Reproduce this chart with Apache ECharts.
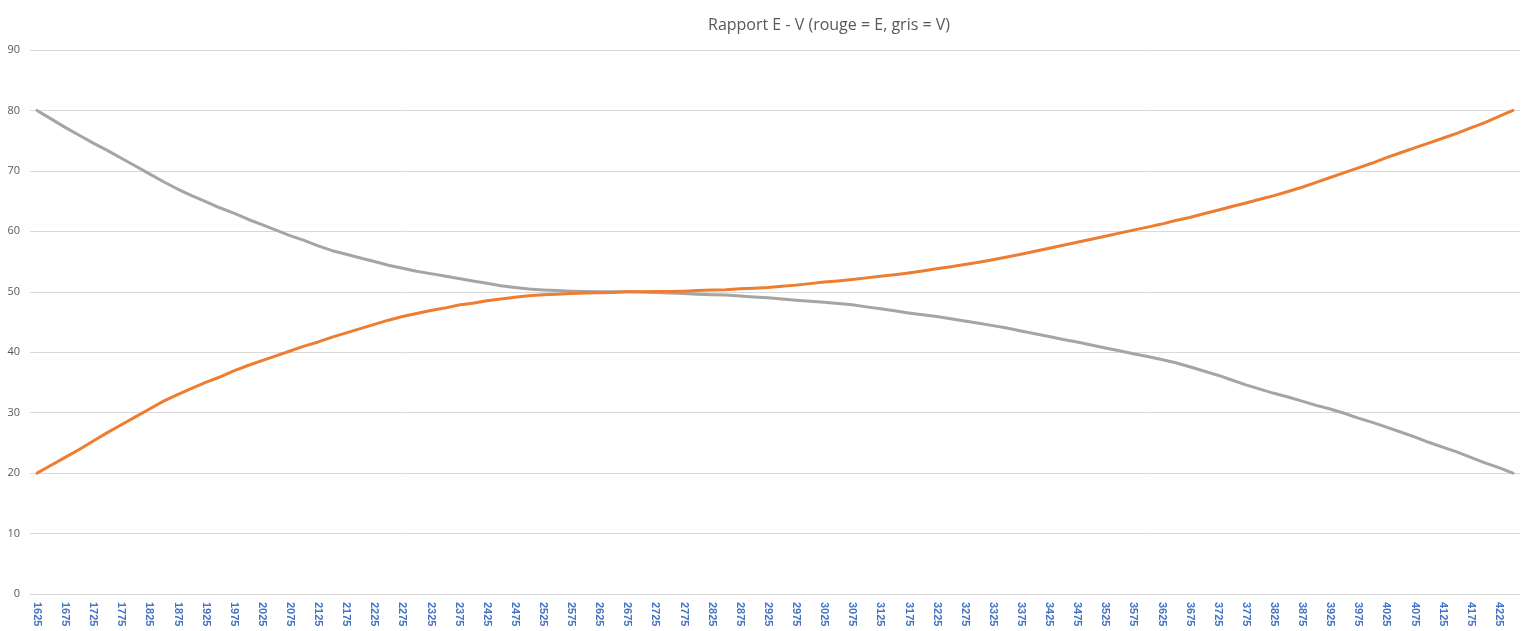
<!DOCTYPE html>
<html>
<head>
<meta charset="utf-8">
<script src="https://cdn.jsdelivr.net/npm/echarts@6/dist/echarts.min.js"></script>
<style>
html,body{margin:0;padding:0;background:#fff;}
#c{width:1535px;height:631px;}
</style>
</head>
<body>
<div id="c"></div>
<script>
// Categories: 1625 .. 4250, step 25
const categories = [
  1625,1650,1675,1700,1725,1750,1775,1800,1825,1850,
  1875,1900,1925,1950,1975,2000,2025,2050,2075,2100,
  2125,2150,2175,2200,2225,2250,2275,2300,2325,2350,
  2375,2400,2425,2450,2475,2500,2525,2550,2575,2600,
  2625,2650,2675,2700,2725,2750,2775,2800,2825,2850,
  2875,2900,2925,2950,2975,3000,3025,3050,3075,3100,
  3125,3150,3175,3200,3225,3250,3275,3300,3325,3350,
  3375,3400,3425,3450,3475,3500,3525,3550,3575,3600,
  3625,3650,3675,3700,3725,3750,3775,3800,3825,3850,
  3875,3900,3925,3950,3975,4000,4025,4050,4075,4100,
  4125,4150,4175,4200,4225,4250
];

// E (orange)
const seriesE = [
  20.0,21.3,22.6,23.9,25.3,26.7,28.0,29.3,30.6,31.9,
  33.0,34.0,35.0,35.9,36.9,37.8,38.6,39.4,40.2,41.0,
  41.7,42.5,43.2,43.9,44.6,45.3,45.9,46.4,46.9,47.3,
  47.8,48.1,48.5,48.8,49.1,49.35,49.5,49.6,49.7,49.8,
  49.85,49.9,50.0,50.0,50.05,50.05,50.1,50.2,50.3,50.35,
  50.5,50.6,50.7,50.9,51.1,51.35,51.6,51.8,52.05,52.3,
  52.55,52.8,53.1,53.45,53.8,54.15,54.5,54.9,55.3,55.75,
  56.2,56.7,57.2,57.7,58.2,58.7,59.2,59.7,60.2,60.7,
  61.2,61.8,62.3,62.9,63.5,64.1,64.7,65.3,65.9,66.6,
  67.3,68.1,68.9,69.7,70.5,71.3,72.2,73.0,73.8,74.6,
  75.4,76.2,77.1,78.0,79.0,80.0
];

// V (grey)
const seriesV = [
  80.0,78.6,77.2,75.9,74.6,73.4,72.1,70.8,69.5,68.2,
  67.0,65.9,64.9,63.9,63.0,62.0,61.1,60.2,59.3,58.5,
  57.6,56.8,56.2,55.6,55.0,54.4,53.9,53.4,53.0,52.6,
  52.2,51.8,51.4,51.0,50.7,50.45,50.3,50.2,50.1,50.05,
  50.0,50.0,50.0,49.95,49.9,49.8,49.7,49.6,49.5,49.45,
  49.3,49.15,49.0,48.8,48.6,48.45,48.25,48.05,47.85,47.5,
  47.2,46.85,46.5,46.2,45.9,45.55,45.15,44.8,44.4,44.0,
  43.5,43.05,42.6,42.1,41.7,41.2,40.7,40.25,39.75,39.3,
  38.8,38.25,37.6,36.9,36.2,35.4,34.6,33.9,33.2,32.6,
  31.9,31.2,30.6,29.9,29.1,28.4,27.6,26.8,26.0,25.1,
  24.3,23.5,22.6,21.7,20.9,20.0
];

const yTicks = [0,10,20,30,40,50,60,70,80,90];

const chart = echarts.init(document.getElementById('c'), null, {renderer:'canvas'});
chart.setOption({
  backgroundColor:'#ffffff',
  animation:false,
  title:{
    text:'Rapport E - V (rouge = E, gris = V)',
    left:703, top:12,
    textStyle:{color:'#595959', fontSize:16, fontWeight:'normal', fontFamily:'"Open Sans", "Liberation Sans", sans-serif'}
  },
  grid:{left:30, right:15, top:50, bottom:37, containLabel:false},
  xAxis:{
    type:'category',
    data:categories.map(String),
    boundaryGap:true,
    axisLine:{show:true, lineStyle:{color:'#d9d9d9', width:1}},
    axisTick:{show:false},
    axisLabel:{
      interval:1, rotate:-90, margin:8,
      color:'#4472C4', fontSize:11, fontWeight:'bold',
      fontFamily:'"Liberation Sans", sans-serif'
    },
    splitLine:{show:false}
  },
  yAxis:{
    type:'value',
    min:yTicks[0], max:yTicks[yTicks.length-1], interval:10,
    axisLine:{show:false},
    axisTick:{show:false},
    axisLabel:{color:'#595959', fontSize:11, margin:10, fontFamily:'"Open Sans", "Liberation Sans", sans-serif'},
    splitLine:{show:true, lineStyle:{color:'#d9d9d9', width:1}}
  },
  series:[
    {name:'V', type:'line', data:seriesV, symbol:'none', smooth:false,
     lineStyle:{color:'#A5A5A5', width:3, cap:'round', join:'round'}},
    {name:'E', type:'line', data:seriesE, symbol:'none', smooth:false,
     lineStyle:{color:'#ED7D31', width:3, cap:'round', join:'round'}}
  ]
});
</script>
</body>
</html>
